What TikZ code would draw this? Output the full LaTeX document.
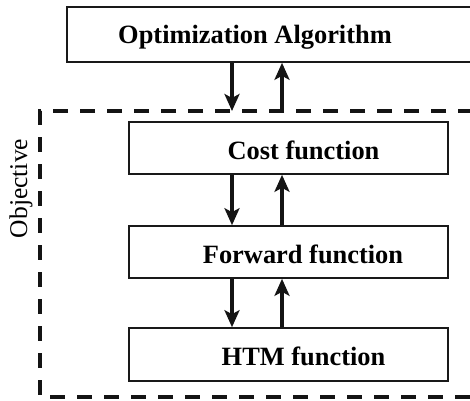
\documentclass[tikz,border=0pt]{standalone}
\usepackage{fontspec}
\setmainfont{Liberation Serif}
\usetikzlibrary{arrows.meta}
\begin{document}
\begin{tikzpicture}[x=1pt,y=-1pt,
  box/.style={draw=black!90,line width=1.6pt,rectangle,inner sep=0pt},
  lbl/.style={font=\fontsize{26.4}{30}\selectfont\bfseries,anchor=base,inner sep=0pt},
  conn/.style={line width=3.8pt,-{Stealth[length=17pt,width=15pt,inset=4pt]},draw=black!92},
  dashbox/.style={draw=black!92,line width=3.3pt,dash pattern=on 15pt off 12pt}]
\useasboundingbox (0,0) rectangle (470,400);
\clip (0,0) rectangle (470,400);
% top box
\node[box,minimum width=420pt,minimum height=55pt] (opt) at (277,34.5) {};
\node[lbl] (optt) at (255,43) {Optimization Algorithm};
% dashed objective box
\coordinate (dtl) at (40,111);
\coordinate (dbr) at (500,397);
\draw[dashbox] (dbr |- dtl) -- (dtl) -- (dtl |- dbr) -- (dbr);
\node[font=\fontsize{25.5}{29}\selectfont,rotate=90,inner sep=0pt] (obj) at (21,188.5) {Objective};
% function boxes
\node[box,minimum width=319pt,minimum height=52pt] (cost) at (288.5,148) {};
\node[lbl] (costt) at (303.5,159) {Cost function};
\node[box,minimum width=319pt,minimum height=52pt] (fwd) at (288.5,252) {};
\node[lbl] (fwdt) at (303,263) {Forward function};
\node[box,minimum width=319pt,minimum height=53pt] (htm) at (288.5,354.5) {};
\node[lbl] (htmt) at (303.5,365) {HTM function};
% arrow columns
\coordinate (dn) at (232,0);
\coordinate (up) at (282,0);
\draw[conn] (dn |- opt.south) -- (dn |- dtl);
\draw[conn] (up |- dtl) -- (up |- opt.south);
\draw[conn] (dn |- cost.south) -- (dn |- fwd.north);
\draw[conn] (up |- fwd.north) -- (up |- cost.south);
\draw[conn] (dn |- fwd.south) -- (dn |- htm.north);
\draw[conn] (up |- htm.north) -- (up |- fwd.south);
\end{tikzpicture}
\end{document}
